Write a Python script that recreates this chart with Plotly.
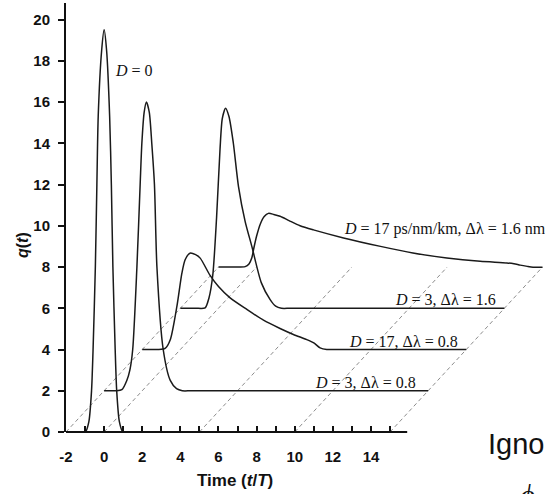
import plotly.graph_objects as go

# ---------------- data ----------------
# D = 0 (baseline 0)
d0_t = [-2, -1.3, -0.98, -0.8, -0.66, -0.58, -0.46, -0.38, -0.31, -0.13, 0.0,
        0.13, 0.29, 0.38, 0.46, 0.58, 0.66, 0.8, 0.98, 1.3, 15]
d0_q = [0, 0, 0, 0.5, 2, 4, 8, 12, 15.3, 18.5, 19.5,
        18.5, 15.3, 12, 8, 4, 2, 0.5, 0, 0, 0]

# D = 3, dl = 0.8 (baseline 2)
a_t = [0, 0.6, 0.93, 1.19, 1.35, 1.5, 1.72, 1.89, 1.98, 2.1, 2.22,
       2.37, 2.5, 2.64, 2.77, 3.1, 3.47, 3.8, 4.1, 4.6, 17]
a_q = [2, 2, 2.05, 2.5, 3.0, 4.0, 8, 12, 14, 15.5, 16,
       15.5, 14, 12, 8, 4, 2.5, 2.1, 2, 2, 2]

# D = 17, dl = 0.8 (baseline 4)
b_t = [2, 2.8, 3.2, 3.47, 3.82, 4.08, 4.25, 4.5, 4.8, 5.04, 5.56, 6.0,
       6.61, 7.49, 8.36, 9.23, 9.93, 10.63, 11.0, 11.33, 11.68, 12.2, 19]
b_q = [4, 4, 4.05, 4.47, 6.1, 7.7, 8.35, 8.67, 8.6, 8.43, 7.59, 7.05,
       6.5, 5.94, 5.42, 5.02, 4.73, 4.48, 4.32, 4.08, 4.0, 4.0, 4]

# D = 3, dl = 1.6 (baseline 6)
c_t = [4, 4.8, 5.3, 5.5, 5.7, 5.9, 6.08, 6.2, 6.37, 6.55, 6.78, 7.05,
       7.4, 7.75, 8.25, 8.71, 9.0, 9.3, 9.8, 21]
c_q = [6, 6, 6.02, 6.5, 7.6, 10.4, 13.7, 15.2, 15.7, 15.3, 14.0, 11.9,
       10.2, 9.0, 7.23, 6.42, 6.1, 6.0, 6.0, 6]

# D = 17, dl = 1.6 (baseline 8)
e_t = [6, 6.8, 7.4, 7.6, 7.75, 7.84, 8.0, 8.2, 8.4, 8.62, 8.9, 9.23, 9.7,
       10.28, 10.98, 12.56, 14.5, 16.2, 17.98, 19.73, 21.13, 21.5, 21.83,
       22.2, 22.5, 23]
e_q = [8, 8, 8.02, 8.15, 8.45, 8.85, 9.5, 10.1, 10.45, 10.6, 10.55, 10.46, 10.25,
       10.0, 9.8, 9.41, 9.0, 8.68, 8.44, 8.28, 8.2, 8.16, 8.09,
       8.03, 7.99, 7.99]

# perspective guide lines: start time on the axis and rise
guide_starts = [-2, 0, 5, 10, 15]
guide_rise = 8

x_ticks = list(range(-2, 16))
x_ticktext = [str(v) if (v % 2 == 0 and v <= 14) else "" for v in x_ticks]
y_ticks = list(range(0, 21, 2))

labels = [
    ("<i>D</i> = 0", 0.47, 17.52, "left"),
    ("<i>D</i> = 17 ps/nm/km, Δλ = 1.6 nm", 12.49, 9.82, "left"),
    ("<i>D</i> = 3, Δλ = 1.6", 20.67, 6.42, "right"),
    ("<i>D</i> = 17, Δλ = 0.8", 18.68, 4.39, "right"),
    ("<i>D</i> = 3, Δλ = 0.8", 16.47, 2.40, "right"),
]

X_RANGE = [-2, 23.13]
Y_RANGE = [0, 20.8]
AXIS_END = 15.9

W, H = 545, 494
ML, MR, MT, MB = 66, 0, 3, 62

fig = go.Figure()

for s in guide_starts:
    fig.add_trace(go.Scatter(
        x=[s, s + guide_rise], y=[0, guide_rise], mode="lines",
        line=dict(color="#8c8c8c", width=1, dash="4px,3px"),
        hoverinfo="skip", showlegend=False))

for tx, qy in [(d0_t, d0_q), (a_t, a_q), (b_t, b_q), (c_t, c_q), (e_t, e_q)]:
    fig.add_trace(go.Scatter(
        x=tx, y=qy, mode="lines",
        line=dict(color="#1a1a1a", width=1.5, shape="spline", smoothing=0.7),
        showlegend=False))

sans = "Liberation Sans, Arial, sans-serif"
serif = "Liberation Serif, Times New Roman, serif"

ann = []
for text, x, y, anc in labels:
    ann.append(dict(text=text, x=x, y=y, xref="x", yref="y", xanchor=anc,
                    yanchor="middle", showarrow=False,
                    font=dict(family=serif, size=16, color="#111")))

pw = W - ML - MR
ph = H - MT - MB


def px2paper(px, py):
    return (px - ML) / pw, (H - MB - py) / ph


tx_, ty_ = px2paper(235, 480)
ann.append(dict(text="<b>Time (<i>t</i>/<i>T</i>)</b>", x=tx_, y=ty_,
                xref="paper", yref="paper", xanchor="center", yanchor="middle",
                showarrow=False, font=dict(family=sans, size=17, color="#111")))
qx_, qy_ = px2paper(22, 245)
ann.append(dict(text="<b><i>q</i>(<i>t</i>)</b>", x=qx_, y=qy_, textangle=-90,
                xref="paper", yref="paper", xanchor="center", yanchor="middle",
                showarrow=False, font=dict(family=sans, size=16, color="#111")))
ix_, iy_ = px2paper(486, 444)
ann.append(dict(text="Ignore", x=ix_, y=iy_, xref="paper", yref="paper",
                xanchor="left", yanchor="middle", showarrow=False,
                font=dict(family=sans, size=29, color="#111")))
fx_, fy_ = px2paper(518, 477)
ann.append(dict(text="<i>ϕ</i>", x=fx_, y=fy_, xref="paper", yref="paper",
                xanchor="left", yanchor="top", showarrow=False,
                font=dict(family=serif, size=29, color="#111")))

fig.update_layout(
    width=W, height=H,
    margin=dict(l=ML, r=MR, t=MT, b=MB),
    paper_bgcolor="white", plot_bgcolor="white",
    annotations=ann,
    shapes=[dict(type="line", xref="x", yref="paper", x0=X_RANGE[0], x1=AXIS_END,
                 y0=0, y1=0, line=dict(color="#111", width=2))],
    xaxis=dict(range=X_RANGE, showgrid=False, zeroline=False, showline=False,
               tickmode="array", tickvals=x_ticks, ticktext=x_ticktext,
               ticks="inside", ticklen=6, tickwidth=1.5, tickcolor="#111",
               ticklabelstandoff=14,
               tickfont=dict(family=sans, size=15, color="#111", weight="bold")),
    yaxis=dict(range=Y_RANGE, showgrid=False, zeroline=False, showline=True,
               linecolor="#111", linewidth=2,
               tickmode="array", tickvals=y_ticks,
               ticks="outside", ticklen=6, tickwidth=1.5, tickcolor="#111",
               ticklabelstandoff=5,
               tickfont=dict(family=sans, size=15, color="#111", weight="bold")),
)

fig.write_html("out.html")
